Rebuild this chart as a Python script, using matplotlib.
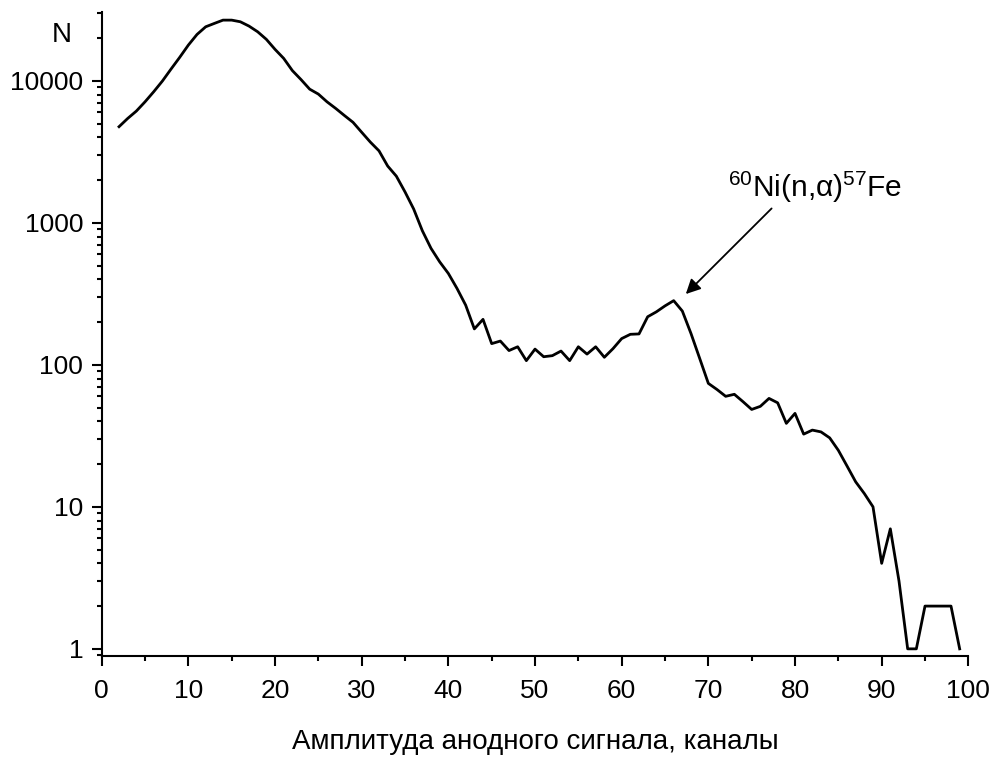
import matplotlib
matplotlib.use("Agg")
import matplotlib.pyplot as plt
from matplotlib import ticker

plt.rcParams['font.family'] = ['Liberation Sans', 'DejaVu Sans']
plt.rcParams['mathtext.fontset'] = 'custom'
plt.rcParams['mathtext.rm'] = 'Liberation Sans'
plt.rcParams['mathtext.it'] = 'Liberation Sans:italic'

# каналы и число отсчётов
channels = list(range(2, 100))
counts = [
    4750, 5430, 6120, 7110, 8370, 9950, 12090, 14620, 17840,            # 2-10
    21200, 24000, 25350, 26740, 26740, 26030, 24270, 22130, 19580, 16650,  # 11-20
    14380, 11800, 10200, 8730, 8060, 7110, 6390, 5700, 5100, 4340,      # 21-30
    3700, 3210, 2510, 2130, 1650, 1250, 879, 661, 531, 440,             # 31-40
    345, 263, 179, 209, 141, 147, 126, 134, 107, 129,                   # 41-50
    114, 116, 125, 107, 134, 119, 134, 113, 130, 153,                   # 51-60
    164, 165, 218, 236, 260, 283, 239, 166, 111, 74,                    # 61-70
    67, 60, 62, 55, 48.5, 51, 58, 54, 38.7, 45.5,                       # 71-80
    32.5, 34.7, 33.7, 30.6, 25, 19.4, 15, 12.4, 10, 4,                  # 81-90
    7, 3, 1, 1, 2, 2, 2, 2, 1,                                          # 91-99
]

x_ticks = list(range(0, 101, 10))
y_ticks = [1, 10, 100, 1000, 10000]

peak_label = r'$^{60}$Ni(n,α)$^{57}$Fe'
arrow_tip = (67.4, 315)
arrow_tail = (77.3, 1262)
label_pos = (82.3, 1780)

fig = plt.figure(figsize=(9.95, 7.6), dpi=100)
ax = fig.add_axes([0.1022, 0.1368, 0.8710, 0.8474])

ax.plot(channels, counts, color='black', lw=2.0)

ax.set_yscale('log')
ax.set_xlim(0, 100)
ax.set_ylim(0.89, 30500)

ax.set_xticks(x_ticks)
ax.xaxis.set_minor_locator(ticker.MultipleLocator(5))
ax.set_yticks(y_ticks)
ax.yaxis.set_minor_locator(ticker.LogLocator(base=10, subs=range(2, 10)))
ax.yaxis.set_major_formatter(ticker.FuncFormatter(lambda v, p: f'{v:g}'))
ax.yaxis.set_minor_formatter(ticker.NullFormatter())

for side in ('top', 'right'):
    ax.spines[side].set_visible(False)
for side in ('left', 'bottom'):
    ax.spines[side].set_linewidth(1.5)

ax.tick_params(which='major', direction='out', length=7.2, width=1.5, labelsize=19)
ax.tick_params(axis='y', which='major', pad=6)
ax.tick_params(axis='x', which='major', pad=9)
ax.tick_params(which='minor', direction='out', length=3.8, width=1.5)

ax.set_xlabel('Амплитуда анодного сигнала, каналы', fontsize=20, labelpad=19)
fig.text(62 / 995, 1 - 35 / 760, 'N', fontsize=20, ha='center', va='center')

ax.annotate('', xy=arrow_tip, xytext=arrow_tail,
            arrowprops=dict(arrowstyle='-|>', mutation_scale=22, lw=1.3, color='black',
                            shrinkA=0, shrinkB=0))
ax.text(label_pos[0], label_pos[1], peak_label, fontsize=21.5, ha='center', va='center')

fig.savefig('out.png', dpi=100)
